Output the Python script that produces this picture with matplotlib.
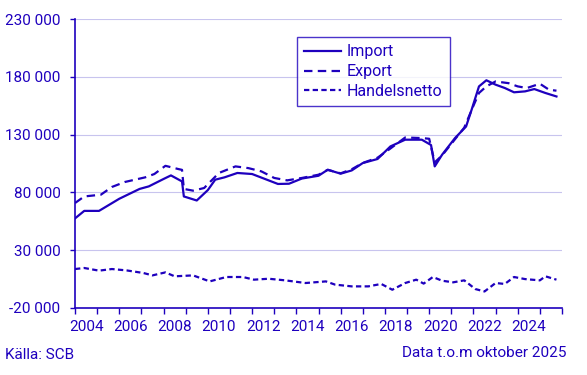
import matplotlib
matplotlib.use("Agg")
import matplotlib.pyplot as plt
from matplotlib.ticker import FuncFormatter, FixedLocator

# values in thousands SEK (millions)
imp_dates = ["2004-01", "2004-06", "2005-02", "2006-01", "2006-12", "2007-05", "2008-01",
             "2008-05", "2008-11", "2008-12", "2009-07", "2010-01", "2010-05", "2010-10",
             "2011-05", "2012-01", "2012-08", "2013-03", "2013-09", "2014-04", "2015-01",
             "2015-06", "2016-01", "2016-07", "2017-01", "2017-09", "2018-04", "2018-12",
             "2019-09", "2020-02", "2020-04", "2020-08", "2021-03", "2021-09", "2021-12",
             "2022-04", "2022-08", "2023-01", "2023-06", "2023-11", "2024-05", "2024-10",
             "2025-04", "2025-10"]
imp_vals = [57.5, 64, 64, 74.5, 83, 85.2, 91.6,
            94.7, 89.5, 76.5, 73, 82, 91, 93,
            96.8, 95.9, 91.6, 87.3, 87.5, 92, 94.4,
            99.6, 96.2, 99, 105.4, 108.9, 119.8, 125.6,
            125.6, 121, 102.5, 112.6, 127, 137, 151.5,
            171.7, 177, 173.2, 170.3, 166.6, 167.4, 169.4,
            166, 163]

exp_dates = ["2004-01", "2004-06", "2005-03", "2005-09", "2006-04", "2007-03", "2007-08",
             "2008-02", "2008-09", "2008-11", "2008-12", "2009-05", "2009-11", "2010-07",
             "2011-04", "2011-11", "2012-06", "2013-01", "2013-08", "2014-04", "2015-01",
             "2015-06", "2016-01", "2016-07", "2017-01", "2017-09", "2018-04", "2018-12",
             "2019-09", "2020-01", "2020-04", "2020-08", "2021-03", "2021-08", "2022-01",
             "2022-04", "2022-08", "2023-01", "2023-08", "2024-01", "2024-06", "2025-01",
             "2025-06", "2025-10"]
exp_vals = [70.8, 76.5, 78, 84.7, 89, 93, 95.9,
            103, 100.2, 99.5, 83, 81.5, 83.8, 96.8,
            102.5, 101, 98.2, 92.5, 90.4, 92.5, 95.3,
            99.5, 96.5, 100, 105.5, 110, 118, 127.5,
            127, 126.4, 106, 112, 126, 136, 155,
            166, 171.7, 176, 174.5, 171.7, 170.3, 174,
            168.8, 168]

net_dates = ["2004-01", "2004-06", "2005-02", "2005-09", "2006-05", "2007-02", "2007-07",
             "2008-02", "2008-07", "2009-05", "2010-02", "2010-11", "2011-08", "2012-02",
             "2012-10", "2013-07", "2014-06", "2015-05", "2015-10", "2016-07", "2017-04",
             "2017-11", "2018-05", "2018-12", "2019-06", "2019-10", "2020-03", "2020-08",
             "2021-02", "2021-08", "2022-02", "2022-07", "2023-01", "2023-06", "2023-11",
             "2024-05", "2025-01", "2025-04", "2025-10"]
net_vals = [13.7, 14.6, 12.3, 13.7, 12.5, 10.3, 8.2,
            10.8, 7.4, 8.2, 3, 6.8, 6.8, 4.5,
            5.3, 3.9, 1.6, 3, 0.2, -1.3, -1.3,
            0.8, -4.2, 1.6, 4.5, 1.1, 6.8, 3.6,
            2.2, 3.9, -3.6, -5.7, 1.6, 0.8, 6.8,
            5, 3.9, 7.4, 4.5]

y_ticks = [-20000, 30000, 80000, 130000, 180000, 230000]
year_labels = list(range(2004, 2025, 2))

BLUE = "#1e00be"
GRID = "#c8c4ee"


def to_year(d):
    y, m = d.split("-")
    return int(y) + (int(m) - 1) / 12


def main():
    plt.rcParams["font.family"] = ["Roboto", "DejaVu Sans"]
    fig = plt.figure(figsize=(5.87, 3.75), dpi=100)
    ax = fig.add_axes([0.1278, 0.1787, 0.8296, 0.7706])

    ax.plot([to_year(d) for d in imp_dates], [v * 1000 for v in imp_vals],
            color=BLUE, lw=1.6, label="Import")
    ax.plot([to_year(d) for d in exp_dates], [v * 1000 for v in exp_vals],
            color=BLUE, lw=1.6, dashes=(3.8, 2.4), label="Export")
    ax.plot([to_year(d) for d in net_dates], [v * 1000 for v in net_vals],
            color=BLUE, lw=1.6, dashes=(2.4, 1.5), label="Handelsnetto")

    ax.set_xlim(2004, 2026)
    ax.set_ylim(-20000, 230000)
    ax.set_yticks(y_ticks)
    ax.yaxis.set_major_formatter(FuncFormatter(lambda v, p: f"{int(v):,}".replace(",", " ")))
    ax.grid(axis="y", color=GRID, lw=0.8)
    ax.set_axisbelow(True)

    ax.xaxis.set_major_locator(FixedLocator(list(range(2004, 2027))))
    ax.xaxis.set_major_formatter(FuncFormatter(lambda v, p: ""))
    ax.xaxis.set_minor_locator(FixedLocator([y + 0.5 for y in year_labels]))
    ax.xaxis.set_minor_formatter(FuncFormatter(lambda v, p: str(int(v))))
    ax.tick_params(axis="x", which="major", length=4, width=1, color=BLUE)
    ax.tick_params(axis="x", which="minor", length=0, pad=9, labelsize=11, labelcolor=BLUE)
    ax.tick_params(axis="y", length=3.5, width=1, color=BLUE, pad=7, labelsize=11, labelcolor=BLUE)

    for s in ["top", "right"]:
        ax.spines[s].set_visible(False)
    for s in ["left", "bottom"]:
        ax.spines[s].set_color(BLUE)
        ax.spines[s].set_linewidth(1.2)

    leg = ax.legend(loc="upper left", bbox_to_anchor=(0.455, 0.937), fontsize=11.5,
                    labelcolor=BLUE, frameon=True, fancybox=False, handlelength=2.35,
                    handletextpad=0.35, borderpad=0.45, labelspacing=0.3, borderaxespad=0)
    leg.get_frame().set_edgecolor(BLUE)
    leg.get_frame().set_linewidth(1.0)

    fig.text(5 / 587, 1 - 355 / 375, "Källa: SCB", color=BLUE, fontsize=11, va="center", ha="left")
    fig.text(566 / 587, 1 - 353 / 375, "Data t.o.m oktober 2025", color=BLUE, fontsize=11,
             va="center", ha="right")

    fig.savefig("out.png", dpi=100)


if __name__ == "__main__":
    main()
